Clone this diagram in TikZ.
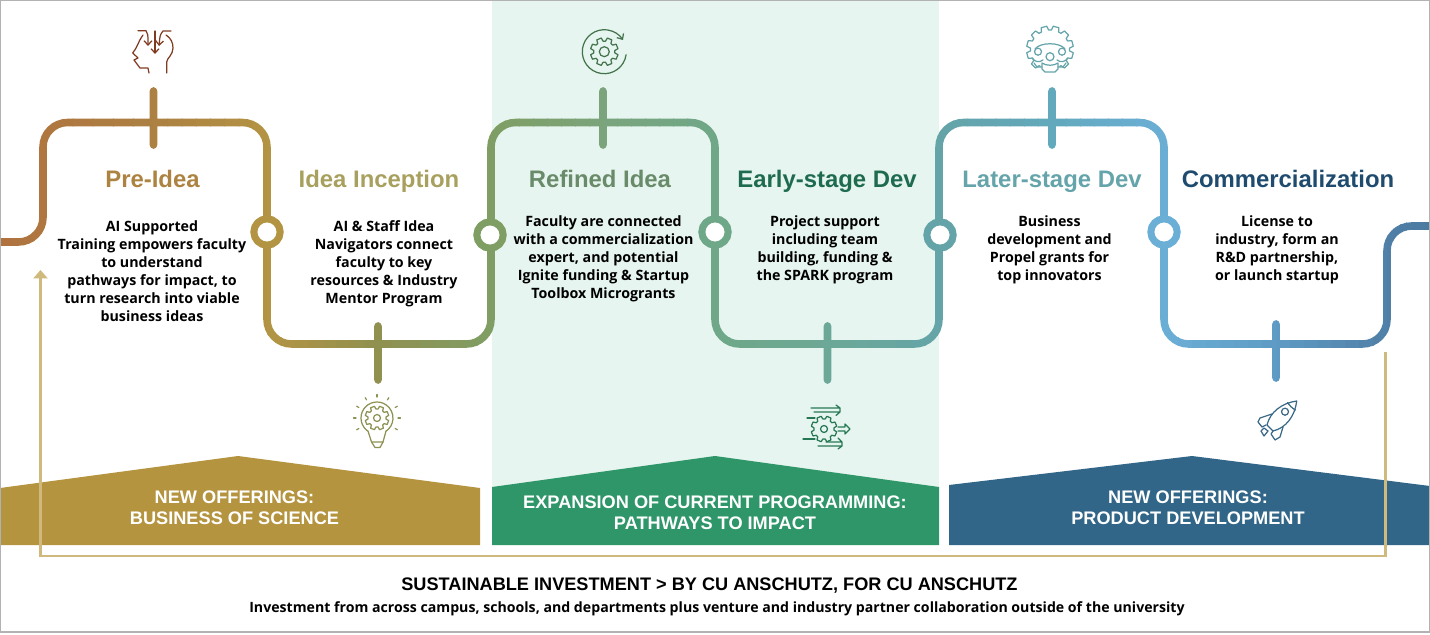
\documentclass[tikz,border=0pt]{standalone}
\usepackage{fontspec}
\setmainfont{Open Sans}
\newfontfamily\headfont{Liberation Sans}
\usetikzlibrary{arrows.meta,positioning}

% colours along the line
\definecolor{stA}{HTML}{B0723F}
\definecolor{stB}{HTML}{AC8042}
\definecolor{stC}{HTML}{B39443}
\definecolor{stD}{HTML}{909050}
\definecolor{stE}{HTML}{7F9E64}
\definecolor{stF}{HTML}{7BA47C}
\definecolor{stG}{HTML}{6FA888}
\definecolor{stH}{HTML}{6CA896}
\definecolor{stI}{HTML}{64A4A8}
\definecolor{stJ}{HTML}{62A9BD}
\definecolor{stK}{HTML}{6BAED6}
\definecolor{stL}{HTML}{5E9BC4}
\definecolor{stM}{HTML}{4F7FA6}
\definecolor{stN}{HTML}{4A7AA0}
\definecolor{goldband}{HTML}{B59440}
\definecolor{greenband}{HTML}{2E9669}
\definecolor{blueband}{HTML}{316688}
\definecolor{paleband}{HTML}{E6F5EF}
\definecolor{loopline}{HTML}{CFB97D}
\definecolor{headb}{HTML}{A8A05E}
\definecolor{headd}{HTML}{1F6B50}
\definecolor{headf}{HTML}{1F4B6E}

\newcommand{\snakeline}{
  (-8,242) -- (43,242) -- (43,122.5) -- (267,122.5) -- (267,344) -- (491,344)
  -- (491,122.5) -- (715,122.5) -- (715,344) -- (939,344) -- (939,122.5)
  -- (1164,122.5) -- (1164,344) -- (1387,344) -- (1387,226) -- (1438,226)
  (153.5,91) -- (153.5,145) (378,326) -- (378,380) (603,91) -- (603,145)
  (827.5,326) -- (827.5,380) (1052,91) -- (1052,145) (1276,324) -- (1276,378)}

% teeth of a gear: centre, inner radius, outer radius, number of teeth
\newcommand{\gearicon}[5][]{
  \pgfmathsetmacro\gearstep{360/#5}
  \pgfmathsetmacro\gearnext{2*\gearstep}
  \pgfmathsetmacro\gearlast{360-\gearstep}
  \draw[#1,shift={#2}] (0:#3)
    \foreach \a in {0,\gearstep,...,\gearlast}{
      -- (\a+0.14*\gearstep:#3) -- (\a+0.28*\gearstep:#4) -- (\a+0.72*\gearstep:#4)
      -- (\a+0.86*\gearstep:#3) -- (\a+\gearstep:#3)} -- cycle;
}

\begin{document}
\begin{tikzpicture}
  [x=0.02cm,y=-0.02cm,
   snake/.style={line width=4.3pt,line cap=round,rounded corners=14pt},
   ring/.style={circle,fill=white,line width=4pt,minimum size=15pt,inner sep=0pt},
   head/.style={anchor=base,font=\headfont\bfseries\fontsize{13.6}{16}\selectfont,inner sep=0pt},
   body/.style={align=center,inner sep=0pt,font=\bfseries\fontsize{8.1}{10.3}\selectfont},
   bandtext/.style={align=center,inner sep=0pt,text=white,
     font=\headfont\bfseries\fontsize{10.35}{12}\selectfont},
   icon/.style={line width=0.7pt,line join=round,line cap=round},
   tip/.style={-{Straight Barb[length=2.5pt,width=4.5pt]}}]
  \useasboundingbox (0,0) rectangle (1430,635);
  \clip (0,0) rectangle (1430,635);

  \fill[paleband] (492,0) rectangle (939,545);

  % bands
  \fill[goldband] (0,488) -- (238,456) -- (480,488) -- (480,545) -- (0,545) -- cycle;
  \fill[greenband] (492,487) -- (715,456) -- (939,487) -- (939,545) -- (492,545) -- cycle;
  \fill[blueband] (949,485) -- (1192,456) -- (1430,486) -- (1430,545) -- (949,545) -- cycle;
  \node[bandtext] (goldtext) at (234.5,507.5) {NEW OFFERINGS:\\BUSINESS OF SCIENCE};
  \node[bandtext] (greentext) at (715,512.5) {EXPANSION OF CURRENT PROGRAMMING:\\PATHWAYS TO IMPACT};
  \node[bandtext] (bluetext) at (1188,508) {NEW OFFERINGS:\\PRODUCT DEVELOPMENT};

  % the line, cut in thin slices to change colour
  \foreach \xa/\xb/\ca/\cb in {-8/153/stA/stB,153/267/stB/stC,267/378/stC/stD,
      378/491/stD/stE,491/603/stE/stF,603/715/stF/stG,715/827/stG/stH,827/939/stH/stI,
      939/1052/stI/stJ,1052/1164/stJ/stK,1164/1276/stK/stL,1276/1387/stL/stM,1387/1438/stM/stN}{
    \foreach \t in {0,...,7}{
      \pgfmathsetmacro\sa{\xa+(\xb-\xa)*\t/8}
      \pgfmathsetmacro\sb{\xa+(\xb-\xa)*(\t+1)/8+1}
      \pgfmathtruncatemacro\pct{(\t+0.5)*100/8}
      \begin{scope}
        \clip (\sa,60) rectangle (\sb,400);
        \draw[snake,draw={\cb!\pct!\ca}] \snakeline;
      \end{scope}
    }
  }

  % rings
  \node[ring,draw=stC] (ringa) at (267,232) {};
  \node[ring,draw=stE] (ringb) at (490,235) {};
  \node[ring,draw=stG] (ringc) at (715,232) {};
  \node[ring,draw=stI] (ringd) at (940,235) {};
  \node[ring,draw=stK] (ringe) at (1164,232) {};

  % headings
  \node[head,text=stB!85!stC] (preidea) at (152.5,187.5) {Pre-Idea};
  \node[head,text=headb] (inception) at (379,187.5) {Idea Inception};
  \node[head,text=stF!85!black] (refined) at (600,187.5) {Refined Idea};
  \node[head,text=headd] (early) at (827,187.5) {Early-stage Dev};
  \node[head,text=stI!90!stJ] (later) at (1052,187.5) {Later-stage Dev};
  \node[head,text=headf] (commerce) at (1288,187.5) {Commercialization};

  % texts under the headings
  \node[body] (preideatext) at (152,271) {AI Supported\\Training empowers faculty\\to understand\\pathways for impact, to\\turn research into viable\\business ideas};
  \node[body] (inceptiontext) at (384,264) {AI \& Staff Idea\\Navigators connect\\faculty to key\\resources \& Industry\\Mentor Program};
  \node[body] (refinedtext) at (603.5,259) {Faculty are connected\\with a commercialization\\expert, and potential\\Ignite funding \& Startup\\Toolbox Microgrants};
  \node[body] (earlytext) at (825,250) {Project support\\including team\\building, funding \&\\the SPARK program};
  \node[body] (latertext) at (1049.5,250) {Business\\development and\\Propel grants for\\top innovators};
  \node[body] (commercetext) at (1277,250) {License to\\industry, form an\\R\&D partnership,\\or launch startup};

  % return line
  \coordinate (loopstart) at (1385.5,352);
  \coordinate (loopend) at (40.5,270);
  \draw[loopline,line width=1.3pt,-{Triangle[width=8pt,length=4.8pt]}]
    (loopstart) |- (40.5,556) -- (loopend);

  % bottom texts
  \node[font=\headfont\bfseries\fontsize{10.33}{12}\selectfont,inner sep=0pt] (invest) at (709.5,586) {SUSTAINABLE INVESTMENT > BY CU ANSCHUTZ, FOR CU ANSCHUTZ};
  \node[font=\bfseries\fontsize{8.05}{10}\selectfont,inner sep=0pt] (investnote) at (717,609) {Investment from across campus, schools, and departments plus venture and industry partner collaboration outside of the university};

  % head with arrows
  \begin{scope}[icon,draw=stA!60!black!85!red]
    \draw (143,35) .. controls (138,42) and (137,48) .. (132.7,53)
      -- (138,58) -- (134,60) -- (140,68) -- (148,68) -- (149,73);
    \draw[tip] (138,30.7) -- (146,30.7) .. controls (148,34) .. (148,46);
    \draw[tip] (155,31) -- (155,54);
    \draw[tip] (171,31) -- (163,31) .. controls (160,35) .. (159,46);
    \draw (166,35) .. controls (171,38) and (173,43) .. (173,48)
      .. controls (173,55) and (167,58) .. (166.7,62) -- (166.7,73);
  \end{scope}

  % gear in a turning arrow
  \begin{scope}[icon,draw=stE!55!greenband!75!black]
    \draw[tip] (604.3,51.7) ++(8:22) arc (8:328:22);
    \gearicon[icon]{(604.3,51.7)}{10.5}{14}{8}
    \draw (604.3,51.7) circle (5);
  \end{scope}

  % bulb with gear
  \begin{scope}[icon,draw=stD!85!stE]
    \draw (377,418) ++(124:16) arc (124:416:16);
    \gearicon[icon]{(377,418)}{9}{12}{8}
    \draw (377,418) circle (3.5);
    \foreach \a in {-30,0,...,210}{\draw (377,418) ++(-\a:21) -- ++(-\a:2.5);}
    \draw (368,431) -- (371.5,442) -- (383,442) -- (386,431);
    \draw (371.5,442) -- (375,447.5) -- (380,447.5) -- (383,442);
  \end{scope}

  % gear with speed arrows
  \begin{scope}[icon,draw=greenband!80!black]
    \gearicon[icon]{(824,429)}{10}{13}{8}
    \draw (824,429) circle (3.5);
    \draw (811,408) -- (840,408) (814,412) -- (840,412) -- (836,415.5) (840,408) -- (836,405) (840,408) -- (840,412);
    \draw (807,418) -- (815,418) (803,439) -- (815,439);
    \draw (838,427) -- (845,427) -- (845,424) -- (850,429) -- (845,434) -- (845,431) -- (838,431);
    \draw (818,446) -- (842,446) -- (838,449) (826,442) -- (842,442) -- (838,438) (842,442) -- (842,446);
  \end{scope}

  % gear with people
  \begin{scope}[icon,draw=stI!90!stJ]
    \draw[shift={(1050,49.5)}] (-240:19.5)
      \foreach \a in {-240,-210,...,30}{
        -- (\a+4:19.5) -- (\a+8:23.5) -- (\a+22:23.5) -- (\a+26:19.5) -- (\a+30:19.5)};
    \draw (1038,51.7) circle (3.5) (1062,51.7) circle (3.5) (1050,56.7) circle (4);
    \draw (1035,49) .. controls (1040,42) and (1060,42) .. (1065,49);
    \draw (1032,58) .. controls (1035,62) and (1039,63) .. (1043,60);
    \draw (1068,58) .. controls (1065,62) and (1061,63) .. (1057,60);
    \draw (1034,63) -- (1037,67) -- (1042,67);
    \draw (1066,63) -- (1063,67) -- (1058,67);
    \draw (1042,63) -- (1042,69) -- (1045,72) -- (1055,72) -- (1058,69) -- (1058,63)
      .. controls (1054,66) and (1046,66) .. cycle;
  \end{scope}

  % rocket
  \begin{scope}[icon,draw=blueband!90!gray]
    \draw (1267,425) .. controls (1270,412) and (1282,403) .. (1296.7,401)
      .. controls (1295,416) and (1286,428) .. (1273,431) -- cycle;
    \draw (1287.5,402.5) .. controls (1289,405) and (1293,409) .. (1295.5,410);
    \draw (1285,411.7) circle (3.5);
    \draw (1272,414) -- (1260,418) -- (1258,422) -- (1262,427) -- (1266,425);
    \draw (1283,427) -- (1280,437) -- (1275,440) -- (1271,434) -- (1273,431);
    \draw (1261,431) -- (1264,436) -- (1268,431) -- (1264,428) -- cycle;
  \end{scope}

  % frame
  \draw[gray!60,line width=0.8pt] (0.5,0.5) rectangle (1429.5,632);
\end{tikzpicture}
\end{document}
